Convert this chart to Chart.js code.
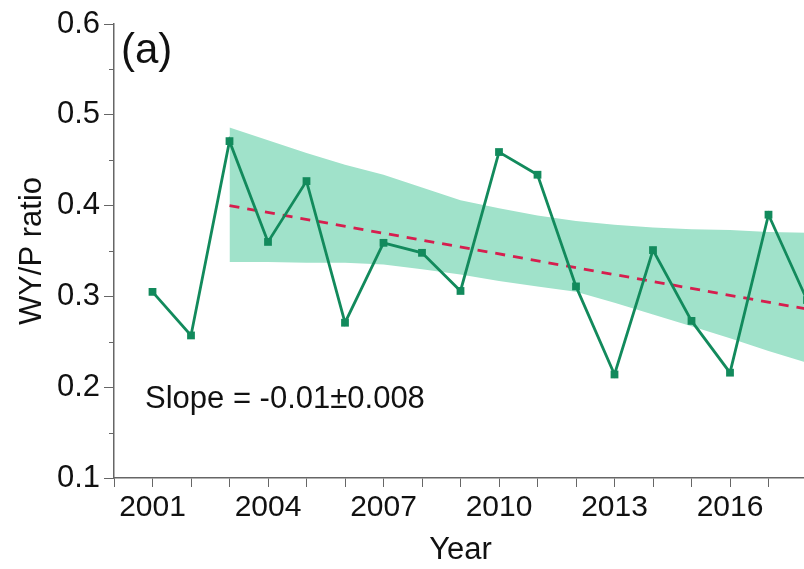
<!DOCTYPE html>
<html>
<head>
<meta charset="utf-8">
<script src="https://cdn.jsdelivr.net/npm/chart.js@4"></script>
<style>
  html, body { margin: 0; padding: 0; background: #fff; }
  #wrap { width: 804px; height: 569px; overflow: hidden; }
</style>
</head>
<body>
<div id="wrap"><canvas id="wyp" width="810" height="569"></canvas></div>
<script>
// values
var years = [2001, 2002, 2003, 2004, 2005, 2006, 2007, 2008, 2009, 2010, 2011, 2012, 2013, 2014, 2015, 2016, 2017, 2018];
var ratio = [0.305, 0.257, 0.471, 0.360, 0.427, 0.271, 0.359, 0.348, 0.306, 0.459, 0.434, 0.311, 0.214, 0.351, 0.273, 0.216, 0.390, 0.296];

// confidence band, 2003 onwards
var bandYears = [2003, 2004, 2005, 2006, 2007, 2008, 2009, 2010, 2011, 2012, 2013, 2014, 2015, 2016, 2017, 2018];
var bandUpper = [0.486, 0.472, 0.458, 0.445, 0.434, 0.420, 0.406, 0.397, 0.389, 0.383, 0.379, 0.376, 0.374, 0.373, 0.371, 0.370];
var bandLower = [0.338, 0.338, 0.337, 0.337, 0.335, 0.330, 0.324, 0.317, 0.311, 0.305, 0.293, 0.280, 0.267, 0.254, 0.240, 0.227];

// trend line end points
var trendYears = [2003, 2018];
var trendValues = [0.400, 0.286];

var yMinorTicks = [0.15, 0.25, 0.35, 0.45, 0.55];

function pairs(xs, ys) {
    return xs.map(function (x, i) { return { x: x, y: ys[i] }; });
}

var green = 'rgb(18, 138, 92)';
var band = 'rgb(160, 226, 202)';
var red = 'rgb(214, 30, 78)';
var axisGrey = '#666';
var font = 'Liberation Sans, Arial, sans-serif';

// minor y ticks and the two text labels
var extras = {
    id: 'extras',
    afterDraw: function (chart) {
        var c = chart.ctx;
        var y = chart.scales.y;
        var left = chart.chartArea.left;
        c.save();
        c.strokeStyle = axisGrey;
        c.lineWidth = 1;
        yMinorTicks.forEach(function (v) {
            var py = Math.round(y.getPixelForValue(v)) + 0.5;
            c.beginPath();
            c.moveTo(left - 5, py);
            c.lineTo(left, py);
            c.stroke();
        });
        c.fillStyle = '#111';
        c.textBaseline = 'alphabetic';
        c.font = '42px ' + font;
        c.fillText('(a)', 121, 63);
        c.font = '31px ' + font;
        c.fillText('Slope = -0.01\u00b10.008', 145, 408);
        c.restore();
    }
};

var ctx = document.getElementById('wyp').getContext('2d');
var chart = new Chart(ctx, {
    type: 'line',
    data: {
        datasets: [{
            label: 'upper',
            data: pairs(bandYears, bandUpper),
            borderWidth: 0,
            pointRadius: 0,
            backgroundColor: band,
            fill: '+1',
            order: 3
        }, {
            label: 'lower',
            data: pairs(bandYears, bandLower),
            borderWidth: 0,
            pointRadius: 0,
            backgroundColor: band,
            fill: false,
            order: 3
        }, {
            label: 'trend',
            data: pairs(trendYears, trendValues),
            borderColor: red,
            borderWidth: 2.8,
            borderDash: [10, 8],
            pointRadius: 0,
            fill: false,
            order: 2
        }, {
            label: 'WY/P',
            data: pairs(years, ratio),
            borderColor: green,
            backgroundColor: green,
            borderWidth: 2.8,
            pointStyle: 'rect',
            pointRadius: 5.5,
            pointBorderWidth: 0,
            fill: false,
            order: 1
        }]
    },
    options: {
        responsive: false,
        animation: false,
        layout: { autoPadding: false, padding: { top: 24, right: 0, left: 14, bottom: 0 } },
        plugins: {
            legend: { display: false },
            tooltip: { enabled: false }
        },
        scales: {
            x: {
                type: 'linear',
                min: 2000,
                max: 2018,
                afterFit: function (s) { s.height = 91; },
                border: { color: axisGrey, width: 1.5 },
                grid: { drawOnChartArea: false, color: axisGrey, tickLength: 9 },
                ticks: {
                    stepSize: 1,
                    autoSkip: false,
                    maxRotation: 0,
                    padding: 3,
                    color: '#111',
                    font: { family: font, size: 30 },
                    callback: function (v) { return (v - 2001) % 3 === 0 && v >= 2001 ? String(v) : ''; }
                },
                title: {
                    display: true,
                    text: 'Year',
                    color: '#111',
                    font: { family: font, size: 31 },
                    padding: { top: 0, bottom: 0 }
                }
            },
            y: {
                min: 0.1,
                max: 0.6,
                afterFit: function (s) { s.width = 100; },
                border: { color: axisGrey, width: 1.5 },
                grid: { drawOnChartArea: false, color: axisGrey, tickLength: 10 },
                ticks: {
                    stepSize: 0.1,
                    padding: 4,
                    color: '#111',
                    font: { family: font, size: 31 },
                    callback: function (v) { return v.toFixed(1); }
                },
                title: {
                    display: true,
                    text: 'WY/P ratio',
                    color: '#111',
                    font: { family: font, size: 31 },
                    padding: { top: 0, bottom: 4 }
                }
            }
        }
    },
    plugins: [extras]
});
</script>
</body>
</html>
